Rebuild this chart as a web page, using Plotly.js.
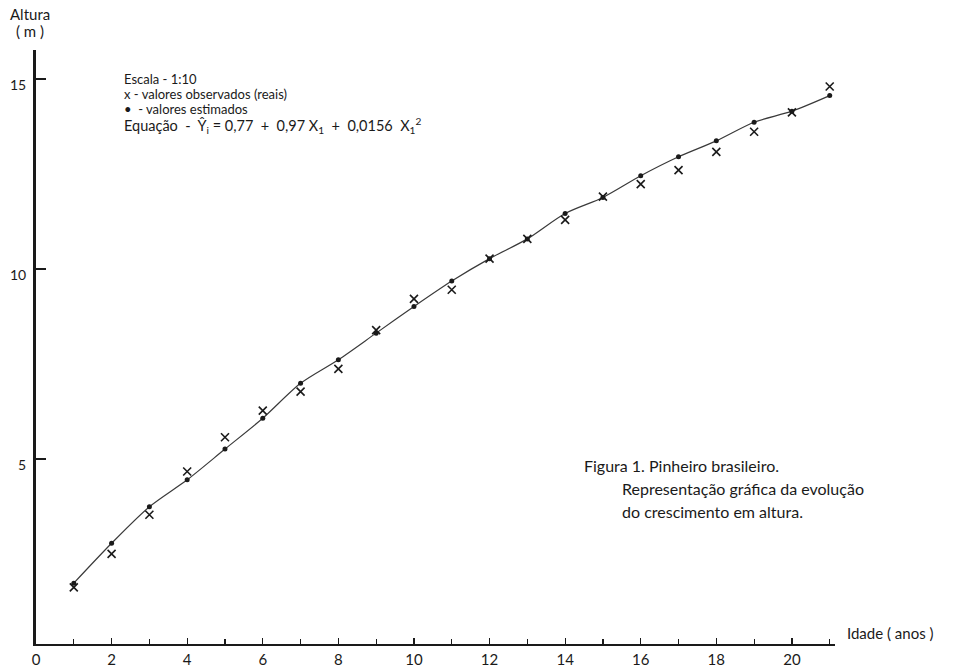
<!DOCTYPE html>
<html>
<head>
<meta charset="utf-8">
<script src="https://cdn.plot.ly/plotly-3.0.1.min.js"></script>
<style>
  html, body { margin: 0; padding: 0; background: #ffffff; }
  #chart { width: 953px; height: 671px; }
</style>
</head>
<body>
<div id="chart"></div>
<script>
// Idade (anos) of each measured tree
const idade = [1, 2, 3, 4, 5, 6, 7, 8, 9, 10, 11, 12, 13, 14, 15, 16, 17, 18, 19, 20, 21];
// Observed heights (m), drawn as "x"
const alturaObservada = [1.62, 2.50, 3.53, 4.67, 5.57, 6.27, 6.77, 7.37, 8.39, 9.21, 9.45,
                         10.27, 10.79, 11.29, 11.90, 12.23, 12.60, 13.08, 13.61, 14.12, 14.80];
// Estimated heights (m) from the fitted equation, drawn as dots and joined by the curve
const alturaEstimada = [1.73, 2.78, 3.74, 4.45, 5.26, 6.07, 6.99, 7.61, 8.31, 9.01, 9.68,
                        10.27, 10.79, 11.46, 11.88, 12.45, 12.95, 13.37, 13.86, 14.15, 14.56];
// Axis tick labels
const yTickVals = [5, 10, 15];
const yTickText = ['5', '10', '15'];

const ink = '#1a1a1a';
const fontFamily = 'Lato, "Open Sans", sans-serif';
const sp = '\u00a0';

const traces = [
  {
    x: idade, y: alturaEstimada, type: 'scatter', mode: 'lines',
    line: { color: '#3a3a3a', width: 1.2, shape: 'spline', smoothing: 0.8 },
    hoverinfo: 'skip', showlegend: false
  },
  {
    x: idade, y: alturaEstimada, type: 'scatter', mode: 'markers',
    marker: { symbol: 'circle', size: 5, color: ink },
    name: 'valores estimados', showlegend: false
  },
  {
    x: idade, y: alturaObservada, type: 'scatter', mode: 'markers',
    marker: { symbol: 'x-thin', size: 8, color: ink, line: { color: ink, width: 1.6 } },
    name: 'valores observados', showlegend: false
  }
];

// text placed in paper pixels: px from the left edge, py from the top edge of the page
const W = 953, H = 671, M = { l: 36, r: 118, t: 50, b: 27 };
const txt = (text, px, py, size, xanchor) => ({
  text, showarrow: false,
  xref: 'paper', yref: 'paper',
  x: (px - M.l) / (W - M.l - M.r),
  y: (H - M.b - py) / (H - M.t - M.b),
  xanchor: xanchor || 'left', yanchor: 'middle',
  font: { family: fontFamily, size: size, color: ink }
});

const annotations = [
  txt('Altura', 30, 14, 15, 'center'),
  txt('(' + sp + 'm' + sp + ')', 30, 31, 15, 'center'),
  txt('Idade (' + sp + 'anos' + sp + ')', 845, 633, 15, 'left'),
  txt('Escala - 1:10', 122, 79, 13),
  txt('x - valores observados (reais)', 122, 94, 13),
  txt('•' + sp + ' - valores estimados', 122, 109, 13),
  txt('Equação' + sp + ' - ' + sp + 'Ŷ<sub>i</sub> = 0,77' + sp + ' + ' + sp + '0,97 X<sub>1</sub>' + sp +
      ' + ' + sp + '0,0156' + sp + ' X<sub>1</sub><sup>2</sup>', 122, 125, 14.5),
  txt('Figura 1. Pinheiro brasileiro.', 582, 465, 16),
  txt('Representação gráfica da evolução', 620, 488, 16),
  txt('do crescimento em altura.', 620, 511, 16)
];

const layout = {
  width: W, height: H,
  margin: M,
  paper_bgcolor: '#ffffff', plot_bgcolor: '#ffffff',
  font: { family: fontFamily, color: ink, size: 14 },
  showlegend: false,
  xaxis: {
    range: [0, 21.14], showgrid: false, zeroline: false,
    showline: true, linecolor: ink, linewidth: 2,
    tick0: 0, dtick: 2, ticks: 'inside', ticklen: 6, tickwidth: 1.2, tickcolor: ink,
    minor: { dtick: 1, ticks: 'inside', ticklen: 5, tickwidth: 1.2, tickcolor: ink },
    tickfont: { family: fontFamily, size: 15, color: ink },
    ticklabelstandoff: 1
  },
  yaxis: {
    range: [0.13, 15.76], showgrid: false, zeroline: false,
    showline: true, linecolor: ink, linewidth: 3,
    tickvals: yTickVals, ticktext: yTickText,
    ticks: 'inside', ticklen: 10, tickwidth: 1.5, tickcolor: ink,
    tickfont: { family: fontFamily, size: 14, color: ink },
    ticklabelshift: 6, ticklabelstandoff: 4
  },
  annotations: annotations
};

Plotly.newPlot('chart', traces, layout, { displayModeBar: false, staticPlot: true });
</script>
</body>
</html>
